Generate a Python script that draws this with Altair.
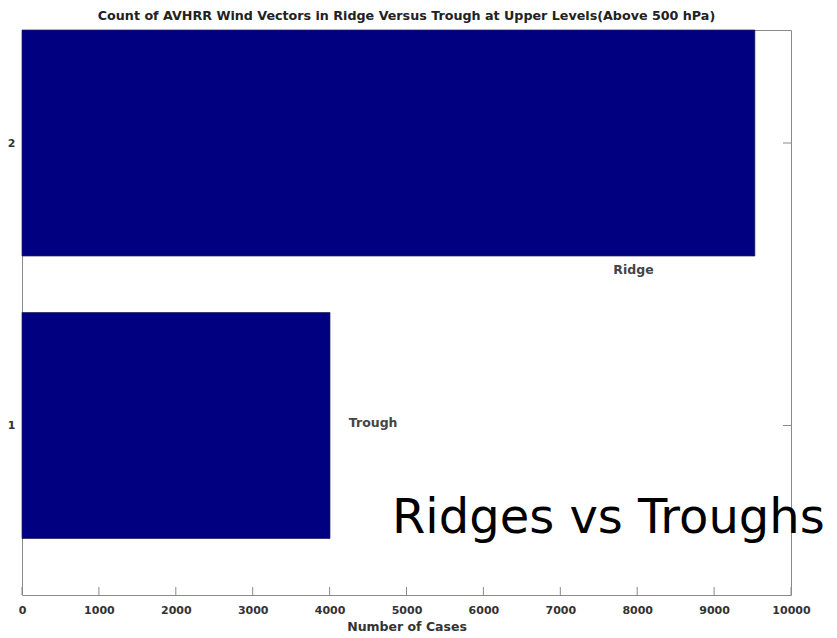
import altair as alt
import pandas as pd

# Case counts per regime (barh positions 1 and 2)
categories = ["Trough", "Ridge"]
positions = [1, 2]
counts = [4005, 9530]

x_ticks = [0, 1000, 2000, 3000, 4000, 5000, 6000, 7000, 8000, 9000, 10000]
y_ticks = [1, 2]

title_text = "Count of AVHRR Wind Vectors in Ridge Versus Trough at Upper Levels(Above 500 hPa)"
x_title = "Number of Cases"
banner = "Ridges vs Troughs"

W, H = 769, 565
WIDE = "DejaVu Sans"
NAVY = "#000080"
FRAME = "#8a8a8a"
INK = "#333333"

bars_df = pd.DataFrame({"label": categories, "pos": positions, "count": counts})

x_scale = alt.Scale(domain=[0, 10000], nice=False, zero=True)
y_scale = alt.Scale(domain=[0.4, 2.4], nice=False, zero=False)

bars = (
    alt.Chart(bars_df)
    .transform_calculate(lo="datum.pos - 0.4", hi="datum.pos + 0.4", base="0")
    .mark_rect(color=NAVY, stroke="#1c1c5c", strokeWidth=0.7)
    .encode(
        x=alt.X(
            "base:Q",
            scale=x_scale,
            axis=alt.Axis(
                values=x_ticks,
                format="d",
                title=x_title,
                domain=False,
                ticks=False,
                grid=False,
                labelFlush=False,
                labelPadding=9,
                titlePadding=5,
                labelFont=WIDE,
                labelFontSize=11,
                labelFontWeight="bold",
                labelColor=INK,
                titleFont=WIDE,
                titleFontSize=12.5,
                titleFontWeight="bold",
                titleColor=INK,
            ),
        ),
        x2="count:Q",
        y=alt.Y(
            "lo:Q",
            scale=y_scale,
            axis=alt.Axis(
                values=y_ticks,
                format="d",
                title=None,
                domain=False,
                ticks=False,
                grid=False,
                labelPadding=7,
                labelFont=WIDE,
                labelFontSize=11,
                labelFontWeight="bold",
                labelColor=INK,
            ),
        ),
        y2="hi:Q",
    )
)

# inward tick marks along the bottom edge
bottom_ticks = (
    alt.Chart(pd.DataFrame({"t": x_ticks}))
    .mark_rule(color=FRAME, strokeWidth=1)
    .encode(x=alt.X("t:Q", scale=x_scale), y=alt.value(H), y2=alt.value(H - 8))
)

# inward tick marks along the right edge
right_ticks = (
    alt.Chart(pd.DataFrame({"t": y_ticks}))
    .mark_rule(color=FRAME, strokeWidth=1)
    .encode(y=alt.Y("t:Q", scale=y_scale), x=alt.value(W - 8), x2=alt.value(W))
)

# bar annotations placed in data coordinates
ridge_label = (
    alt.Chart(pd.DataFrame({"s": ["Ridge"]}))
    .mark_text(font=WIDE, fontSize=12.5, fontWeight="bold", color="#444444", align="left", baseline="middle")
    .encode(x=alt.datum(7690, scale=x_scale), y=alt.datum(1.55, scale=y_scale), text="s:N")
)
trough_label = (
    alt.Chart(pd.DataFrame({"s": ["Trough"]}))
    .mark_text(font=WIDE, fontSize=12.5, fontWeight="bold", color="#444444", align="left", baseline="middle")
    .encode(x=alt.datum(4250, scale=x_scale), y=alt.datum(1.01, scale=y_scale), text="s:N")
)

title = (
    alt.Chart(pd.DataFrame({"s": [title_text]}))
    .mark_text(font=WIDE, fontSize=12.7, fontWeight="bold", color="#222222", align="center", baseline="alphabetic")
    .encode(x=alt.value(W / 2), y=alt.value(-10), text="s:N")
)

banner_text = (
    alt.Chart(pd.DataFrame({"s": [banner]}))
    .mark_text(font=WIDE, fontSize=48, color="#000000", align="left", baseline="alphabetic")
    .encode(x=alt.value(370), y=alt.value(503), text="s:N")
)

chart = (
    alt.layer(bars, bottom_ticks, right_ticks, ridge_label, trough_label, title, banner_text)
    .properties(
        width=W,
        height=H,
        autosize=alt.AutoSizeParams(type="none"),
        padding={"left": 22, "top": 30, "right": 46, "bottom": 43},
        background="white",
    )
    .configure_view(stroke=FRAME, strokeWidth=1)
)

chart.save("out.html", embed_options={"renderer": "svg", "actions": False})
